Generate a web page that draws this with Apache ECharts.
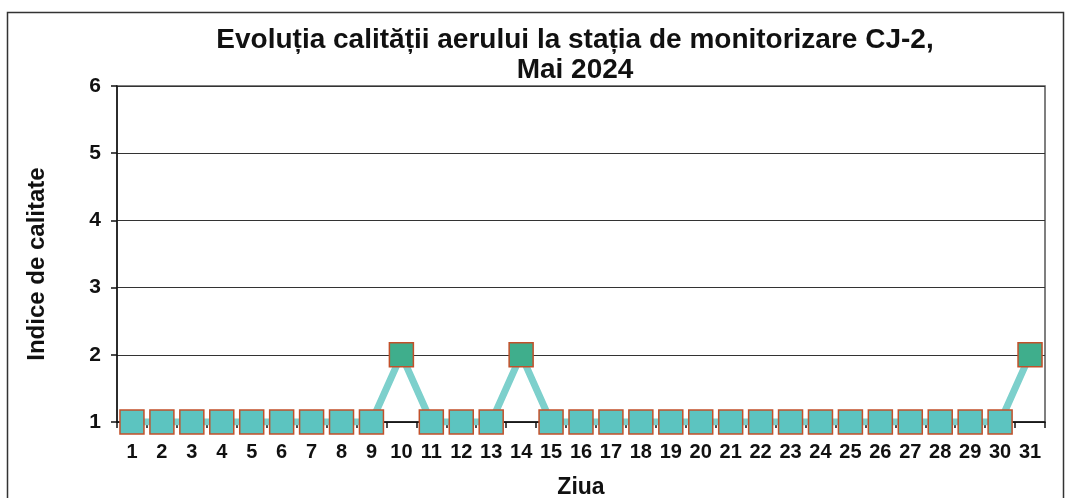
<!DOCTYPE html>
<html><head><meta charset="utf-8">
<script src="https://cdn.jsdelivr.net/npm/echarts@6/dist/echarts.min.js"></script>
<style>html,body{margin:0;padding:0;background:#fff}#c{width:1071px;height:498px}</style>
</head><body><div id="c"></div>
<script>
const days = ['1','2','3','4','5','6','7','8','9','10','11','12','13','14','15','16','17','18','19','20','21','22','23','24','25','26','27','28','29','30','31'];
const indexValues = [1,1,1,1,1,1,1,1,1,2,1,1,1,2,1,1,1,1,1,1,1,1,1,1,1,1,1,1,1,1,2];
const yTicks = [1,2,3,4,5,6];

const chart = echarts.init(document.getElementById('c'));
const F = 'Liberation Sans, Arial, sans-serif';
chart.setOption({
  backgroundColor: '#ffffff',
  animation: false,
  title: {
    text: 'Evoluția calității aerului la stația de monitorizare CJ-2,\nMai 2024',
    left: 570, top: 20, textAlign: 'center',
    textStyle: {fontFamily: F, fontSize: 28, fontWeight: 'bold', color: '#111', lineHeight: 30}
  },
  graphic: [{type: 'rect', shape: {x: 7.5, y: 12.5, width: 1056, height: 500}, style: {fill: 'none', stroke: '#333', lineWidth: 1.5}, silent: true}],
  grid: {left: 117, right: 26, top: 86, bottom: 76, containLabel: false, outerBoundsMode: 'none',
         show: true, borderColor: '#555', borderWidth: 1.5, backgroundColor: 'transparent'},
  xAxis: {
    type: 'category', data: days, boundaryGap: true,
    name: 'Ziua', nameLocation: 'middle', nameGap: 54,
    nameTextStyle: {fontFamily: F, fontSize: 23, fontWeight: 'bold', color: '#111'},
    axisLine: {lineStyle: {color: '#111', width: 1.5}},
    axisTick: {show: true, inside: false, length: 6, lineStyle: {color: '#111', width: 1.5}},
    axisLabel: {fontFamily: F, fontSize: 20, fontWeight: 'bold', color: '#111', margin: 20, interval: 0},
    splitLine: {show: false}
  },
  yAxis: {
    type: 'value', min: yTicks[0], max: yTicks[yTicks.length-1], interval: 1,
    name: 'Indice de calitate', nameLocation: 'middle', nameGap: 68, nameRotate: 90,
    nameTextStyle: {fontFamily: F, fontSize: 24, fontWeight: 'bold', color: '#111', padding: [0, 20, 0, 0]},
    axisLine: {show: true, lineStyle: {color: '#111', width: 1.5}},
    axisTick: {show: true, length: 6, lineStyle: {color: '#111', width: 1.5}},
    axisLabel: {fontFamily: F, fontSize: 21, fontWeight: 'bold', color: '#111', margin: 16},
    splitLine: {show: true, lineStyle: {color: '#333', width: 1}}
  },
  series: [{
    type: 'line', data: indexValues,
    symbol: 'rect', symbolSize: 24,
    lineStyle: {color: '#7dd0cc', width: 7},
    itemStyle: {
      color: p => p.value >= 2 ? '#3fae8c' : '#5cc4c0',
      borderColor: '#c2502a', borderWidth: 1.5
    },
    z: 3
  }]
});
</script></body></html>
